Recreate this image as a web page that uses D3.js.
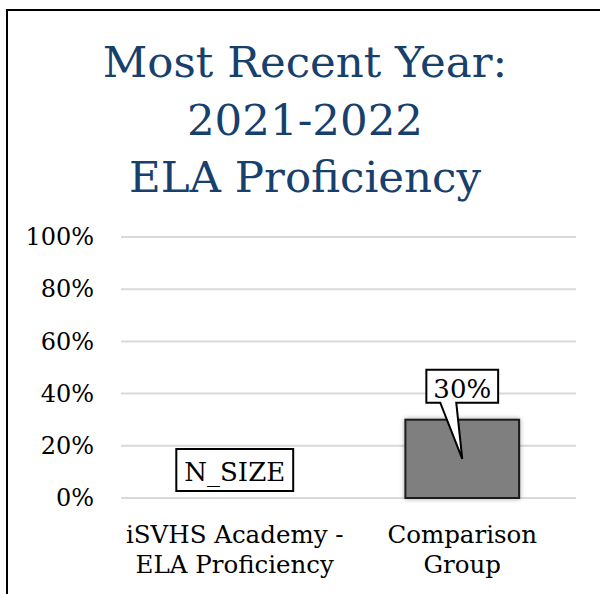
<!DOCTYPE html>
<html>
<head>
<meta charset="utf-8">
<script src="https://cdn.jsdelivr.net/npm/d3@7"></script>
<style>
  body { margin: 0; background: #fff; }
  svg text { font-family: "DejaVu Serif", serif; }
</style>
</head>
<body>
<svg id="chart" width="600" height="594"></svg>
<script>
// chart data
var titleLines = ["Most Recent Year:", "2021-2022", "ELA Proficiency"];
var categories = ["iSVHS Academy - ELA Proficiency", "Comparison Group"];
var categoryLines = [["iSVHS Academy -", "ELA Proficiency"], ["Comparison", "Group"]];
var values = [null, 0.30];
var dataLabels = ["N_SIZE", "30%"];
var yTicks = [0, 0.2, 0.4, 0.6, 0.8, 1.0];

var svg = d3.select("#chart");

var x = d3.scaleBand().domain(categories).range([121, 576]).paddingInner(0.5).paddingOuter(0.25);
var y = d3.scaleLinear().domain([0, 1]).range([498, 237]);

// outer frame
svg.append("rect").attr("x", 7).attr("y", 10).attr("width", 620).attr("height", 620)
    .attr("fill", "none").attr("stroke", "#000").attr("stroke-width", 2);

// title
svg.append("g").selectAll("text").data(titleLines).enter().append("text")
    .attr("x", 305).attr("y", function(d, i) { return 77 + i * 57.5; })
    .attr("text-anchor", "middle").attr("fill", "#17406d")
    .style("font-size", "43.5px").text(function(d) { return d; });

// gridlines
svg.append("g").selectAll("line").data(yTicks).enter().append("line")
    .attr("x1", 121).attr("x2", 576)
    .attr("y1", function(d) { return y(d); }).attr("y2", function(d) { return y(d); })
    .attr("stroke", "#d9d9d9").attr("stroke-width", 2);

// y axis labels
var yAxis = svg.append("g").attr("transform", "translate(94,0)")
    .call(d3.axisLeft(y).tickValues(yTicks).tickFormat(d3.format(".0%")).tickSize(0).tickPadding(0));
yAxis.select(".domain").remove();
yAxis.selectAll("text").style("font-size", "24px").style("font-family", "DejaVu Serif").attr("fill", "#000");

// bar shadow
var defs = svg.append("defs");
var f = defs.append("filter").attr("id", "shadow").attr("x", "-20%").attr("y", "-20%").attr("width", "140%").attr("height", "140%");
f.append("feGaussianBlur").attr("in", "SourceAlpha").attr("stdDeviation", 2.5);
f.append("feComponentTransfer").append("feFuncA").attr("type", "linear").attr("slope", 0.35);
var fm = f.append("feMerge");
fm.append("feMergeNode");
fm.append("feMergeNode").attr("in", "SourceGraphic");

// bars
svg.append("g").selectAll("rect").data(values.map(function(v, i) { return {v: v, c: categories[i]}; })
        .filter(function(d) { return d.v != null; }))
    .enter().append("rect")
    .attr("x", function(d) { return x(d.c); })
    .attr("y", function(d) { return y(d.v); })
    .attr("width", x.bandwidth())
    .attr("height", function(d) { return y(0) - y(d.v); })
    .attr("fill", "#7f7f7f").attr("stroke", "#1a1a1a").attr("stroke-width", 2)
    .attr("filter", "url(#shadow)");

// data labels
categories.forEach(function(c, i) {
    var cx = x(c) + x.bandwidth() / 2;
    var v = values[i];
    var g = svg.append("g");
    if (v == null) {
        var t = g.append("text").attr("x", cx).attr("y", 481).attr("text-anchor", "middle")
            .style("font-size", "26px").text(dataLabels[i]);
        var bb = t.node().getBBox();
        g.insert("rect", "text").attr("x", bb.x - 8).attr("y", 449).attr("width", bb.width + 16).attr("height", 42)
            .attr("fill", "#fff").attr("stroke", "#000").attr("stroke-width", 2);
    } else {
        var top = y(v) - 50, bottom = y(v) - 17;
        var t2 = g.append("text").attr("x", cx).attr("y", bottom - 5).attr("text-anchor", "middle")
            .style("font-size", "26px").text(dataLabels[i]);
        var b2 = t2.node().getBBox();
        var l = cx - b2.width / 2 - 7, r = cx + b2.width / 2 + 7;
        var tip = [cx, y(v / 2)];
        var path = d3.path();
        path.moveTo(l, top);
        path.lineTo(r, top);
        path.lineTo(r, bottom);
        path.lineTo(cx - 6, bottom);
        path.lineTo(tip[0], tip[1]);
        path.lineTo(cx - 22, bottom);
        path.lineTo(l, bottom);
        path.closePath();
        g.insert("path", "text").attr("d", path.toString())
            .attr("fill", "#fff").attr("stroke", "#000").attr("stroke-width", 2).attr("stroke-linejoin", "miter");
    }
});

// category labels
var xl = svg.append("g").selectAll("text").data(categories).enter().append("text")
    .attr("text-anchor", "middle").attr("fill", "#000").style("font-size", "24.5px");
xl.each(function(c, i) {
    var sel = d3.select(this);
    categoryLines[i].forEach(function(line, j) {
        sel.append("tspan").attr("x", x(c) + x.bandwidth() / 2).attr("y", 543 + j * 30).text(line);
    });
});
</script>
</body>
</html>
